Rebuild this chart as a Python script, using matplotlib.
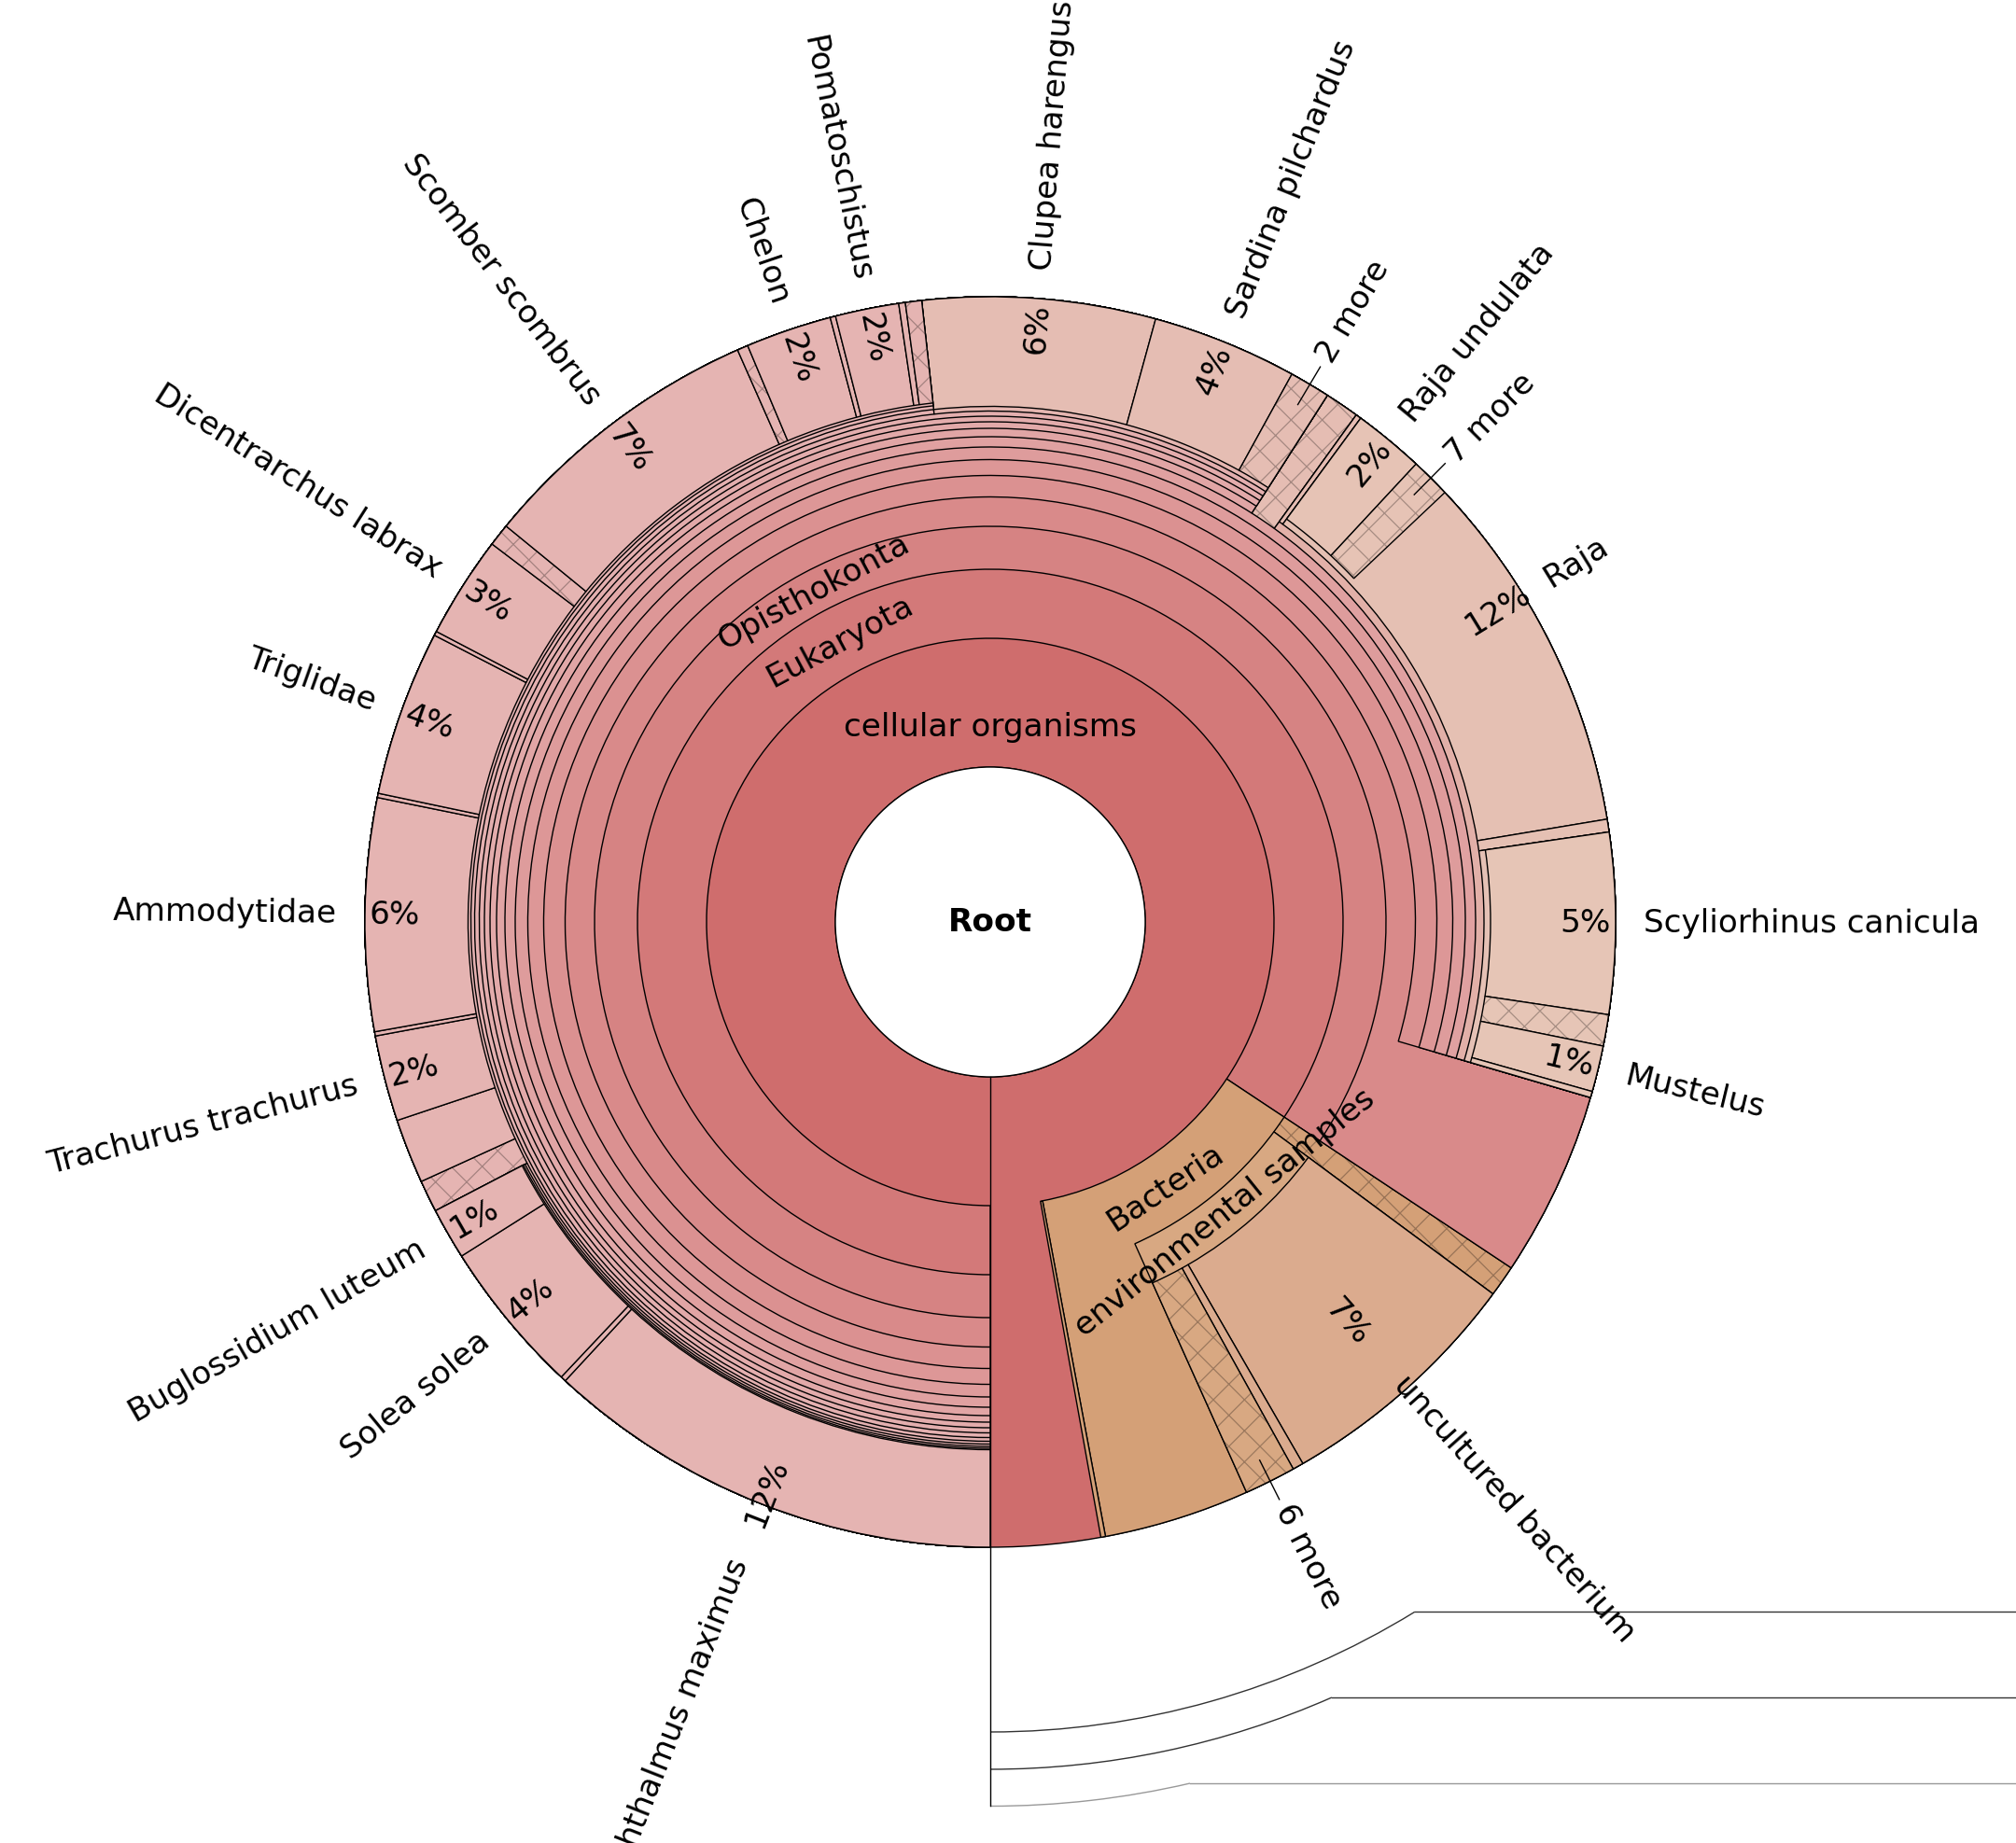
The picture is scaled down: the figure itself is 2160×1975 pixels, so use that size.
import numpy as np
import matplotlib
matplotlib.use("Agg")
import matplotlib.pyplot as plt
from matplotlib.patches import Wedge, Circle, Arc
from matplotlib.colors import to_rgb

plt.rcParams['font.family'] = ['DejaVu Sans']
plt.rcParams['hatch.linewidth'] = 0.9

# ---------------- data (magnitudes in % of all reads) ----------------
node_names = [
    "cellular organisms", "Eukaryota", "Bacteria", "minor 11",
    "Opisthokonta", "Metazoa", "Eumetazoa", "Bilateria", "Chordata", "Gnathostomata",
    "Actinopterygii", "other Gnathostomata", "Chondrichthyes",
    "Actinopteri", "Neopterygii", "Teleostei",
    "Percomorphaceae", "Clupeidae",
    "Clupea harengus", "Sardina pilchardus", "2 more",
    "Eupercaria", "Percomorpha",
    "Pleuronectiformes", "Pleuronectoidei", "Pleuronectoidea",
    "Scophthalmus maximus", "minor 1", "Solea solea", "Buglossidium luteum",
    "other Percomorpha A", "unlabeled taxon", "Trachurus trachurus", "minor 2",
    "Ammodytidae", "minor 3", "Triglidae", "minor 4", "Dicentrarchus labrax",
    "other Percomorpha B", "Scomber scombrus", "other Percomorpha C", "Chelon",
    "minor 5", "Pomatoschistus", "minor 6", "other Percomorpha D",
    "minor 7", "Raja", "minor 8", "Selachii",
    "Raja undulata", "7 more",
    "Scyliorhinus canicula", "other Selachii", "Mustelus", "minor 9",
    "other Bacteria", "environmental samples",
    "uncultured bacterium", "minor 10", "6 more",
]
node_parents = [
    "Root", "cellular organisms", "cellular organisms", "cellular organisms",
    "Eukaryota", "Opisthokonta", "Metazoa", "Eumetazoa", "Bilateria", "Chordata",
    "Gnathostomata", "Gnathostomata", "Gnathostomata",
    "Actinopterygii", "Actinopteri", "Neopterygii",
    "Teleostei", "Teleostei",
    "Clupeidae", "Clupeidae", "Clupeidae",
    "Percomorphaceae", "Eupercaria",
    "Percomorpha", "Pleuronectiformes", "Pleuronectoidei",
    "Pleuronectoidea", "Pleuronectoidea", "Pleuronectoidea", "Pleuronectoidea",
    "Percomorpha", "Percomorpha", "Percomorpha", "Percomorpha",
    "Percomorpha", "Percomorpha", "Percomorpha", "Percomorpha", "Percomorpha",
    "Percomorpha", "Percomorpha", "Percomorpha", "Percomorpha",
    "Percomorpha", "Percomorpha", "Percomorpha", "Percomorpha",
    "Chondrichthyes", "Chondrichthyes", "Chondrichthyes", "Chondrichthyes",
    "Raja", "Raja",
    "Selachii", "Selachii", "Selachii", "Selachii",
    "Bacteria", "Bacteria",
    "environmental samples", "environmental samples", "environmental samples",
]
node_values = [
    100.0, 84.33, 12.72, 0.12,
    84.33, 84.33, 79.53, 79.53, 79.53, 79.53,
    59.06, 0.89, 19.58,
    59.06, 59.06, 59.06,
    48.25, 10.81,
    6.01, 3.75, 1.05,
    48.25, 48.25,
    17.36, 17.36, 17.36,
    11.89, 0.14, 4.00, 1.33,
    0.83, 1.67, 2.22, 0.11,
    6.00, 0.11, 4.28, 0.11, 2.64,
    0.58, 7.47, 0.28, 2.22,
    0.14, 1.64, 0.17, 0.42,
    0.14, 12.28, 0.33, 6.83,
    1.83, 1.03,
    4.67, 0.81, 1.19, 0.16,
    0.81, 8.14,
    6.53, 0.28, 1.33,
]

hatched_nodes = ["other Gnathostomata", "2 more", "other Percomorpha A", "other Percomorpha B",
                 "other Percomorpha C", "other Percomorpha D", "7 more", "other Selachii",
                 "other Bacteria", "6 more"]
outer_labels = ["Scophthalmus maximus", "Solea solea", "Buglossidium luteum", "Trachurus trachurus",
                "Ammodytidae", "Triglidae", "Dicentrarchus labrax", "Scomber scombrus", "Chelon",
                "Pomatoschistus", "Clupea harengus", "Sardina pilchardus", "2 more", "Raja undulata",
                "7 more", "Raja", "Scyliorhinus canicula", "Mustelus", "uncultured bacterium", "6 more"]
percent_labels = ["Scophthalmus maximus", "Solea solea", "Buglossidium luteum", "Trachurus trachurus",
                  "Ammodytidae", "Triglidae", "Dicentrarchus labrax", "Scomber scombrus", "Chelon",
                  "Pomatoschistus", "Clupea harengus", "Sardina pilchardus", "Raja undulata", "Raja",
                  "Scyliorhinus canicula", "Mustelus", "uncultured bacterium"]
leader_labels = ["2 more", "7 more", "6 more"]
inner_labels = ["cellular organisms", "Eukaryota", "Opisthokonta", "Bacteria", "environmental samples"]

# ---------------- styles ----------------
pink_by_depth = {1: '#cf6d6d', 2: '#d37979', 3: '#d68383', 4: '#d98a8a', 5: '#db9191',
                 6: '#dd9797', 7: '#de9c9c', 8: '#e0a1a1', 9: '#e1a5a5', 10: '#e2a9a9',
                 11: '#e3acac', 12: '#e3aeae', 13: '#e4b0b0', 14: '#e4b1b1', 15: '#e4b2b2'}
LEAF_PINK = '#e5b4b2'
special_colors = {
    "Bacteria": '#d4a077', "minor 11": '#d4a077', "other Bacteria": '#d4a077',
    "environmental samples": '#d8a882',
    "uncultured bacterium": '#dbab8e', "minor 10": '#dbab8e', "6 more": '#d8a882',
    "Chondrichthyes": '#e2b0a8', "other Gnathostomata": '#e5bdb3', "minor 7": '#e5bcb2',
    "Raja": '#e5c0b3', "Raja undulata": '#e6c3b5', "7 more": '#e6c3b5', "minor 8": '#e5c0b3',
    "Selachii": '#e5c1b5', "Scyliorhinus canicula": '#e6c5b6', "other Selachii": '#e6c5b6',
    "Mustelus": '#e6c5b6', "minor 9": '#e6c5b6',
    "Clupeidae": '#e4b5b0', "Clupea harengus": '#e5bdb3', "Sardina pilchardus": '#e5bdb3',
    "2 more": '#e5bdb3',
}

W, H = 2160, 1975
CX, CY = 1061, H - 988
RING = [166, 304, 378, 424, 455.5, 478.5, 495.5, 509, 520, 529, 536, 542, 547.5, 552.5,
        556.5, 559.5, 562, 564, 565.5]
R_OUT = 670
START = 180.0
FS = 24.7
EDGE_LW = 1.0

# ---------------- layout ----------------
value = dict(zip(node_names, node_values))
children = {}
for n, p in zip(node_names, node_parents):
    children.setdefault(p, []).append(n)
span, depth = {}, {}


def place(parent, a0, d):
    a = a0
    for c in children.get(parent, []):
        w = value[c] * 3.6
        span[c] = (a, a + w)
        depth[c] = d
        place(c, a, d + 1)
        a += w


place("Root", START, 1)


def color_of(n):
    if n in special_colors:
        return special_colors[n]
    return pink_by_depth.get(depth[n], LEAF_PINK)


def darker(c, f=0.72):
    r, g, b = to_rgb(c)
    return (r * f, g * f, b * f)


def polar(r, th):
    t = np.deg2rad(th)
    return CX + r * np.sin(t), CY + r * np.cos(t)


fig = plt.figure(figsize=(W / 100, H / 100), dpi=100)
ax = fig.add_axes([0, 0, 1, 1])
ax.set_xlim(0, W)
ax.set_ylim(0, H)
ax.set_aspect('equal')
ax.axis('off')

for n in sorted(node_names, key=lambda k: depth[k]):
    a0, a1 = span[n]
    rin = RING[depth[n] - 1]
    t1, t2 = 90 - a1, 90 - a0
    col = color_of(n)
    if n in hatched_nodes:
        ax.add_patch(Wedge((CX, CY), R_OUT, t1, t2, width=R_OUT - rin, facecolor=col,
                           edgecolor=darker(col), hatch='x', linewidth=0))
        ax.add_patch(Wedge((CX, CY), R_OUT, t1, t2, width=R_OUT - rin, fill=False,
                           edgecolor='black', linewidth=EDGE_LW))
    else:
        ax.add_patch(Wedge((CX, CY), R_OUT, t1, t2, width=R_OUT - rin, facecolor=col,
                           edgecolor='black', linewidth=EDGE_LW))

# root hole
ax.add_patch(Circle((CX, CY), RING[0], facecolor='white', edgecolor='black', linewidth=EDGE_LW))
ax.text(CX, CY, "Root", fontsize=FS, fontweight='bold', ha='center', va='center')

# key lines below the chart
ax.plot([CX, CX], [CY - RING[0], CY - 947], color='black', lw=1.0)
key_radii = [868, 908, 947.5]
key_end = [148.4, 156.24, 166.95]
key_cols = ['#333333', '#333333', '#999999']
for r, e, c in zip(key_radii, key_end, key_cols):
    ax.add_patch(Arc((CX, CY), 2 * r, 2 * r, theta1=-90, theta2=90 - e, color=c, lw=1.0))
    x0, y0 = polar(r, e)
    ax.plot([x0, W + 5], [y0, y0], color=c, lw=1.0)

# outer name labels
name_r = {"Scophthalmus maximus": 735, "uncultured bacterium": 658}
pct_r = {"Scophthalmus maximus": 658, "uncultured bacterium": 575}
for n in outer_labels:
    a0, a1 = span[n]
    th = ((a0 + a1) / 2) % 360
    r = name_r.get(n, 700)
    if n in leader_labels:
        p1, p2 = polar(645, th), polar(692, th)
        ax.plot([p1[0], p2[0]], [p1[1], p2[1]], color='black', lw=1.0)
    if th < 180:
        rot, ha = 90 - th, 'left'
    else:
        rot, ha = 270 - th, 'right'
    x, y = polar(r, th)
    ax.text(x, y, n, fontsize=FS, rotation=rot, rotation_mode='anchor', ha=ha, va='center',
            clip_on=False)

for n in percent_labels:
    a0, a1 = span[n]
    th = ((a0 + a1) / 2) % 360
    r = pct_r.get(n, 638)
    rot = 90 - th if th < 180 else 270 - th
    x, y = polar(r, th)
    ax.text(x, y, f"{round(value[n])}%", fontsize=FS, rotation=rot, rotation_mode='anchor',
            ha='center', va='center')

# inner ring labels
inner_r = {"cellular organisms": 209}
for n in inner_labels:
    a0, a1 = span[n]
    th = ((a0 + a1) / 2) % 360
    d = depth[n]
    r = inner_r.get(n, (RING[d - 1] + RING[d]) / 2)
    rot = 180 - th if 90 < th < 270 else -th
    x, y = polar(r, th)
    ax.text(x, y, n, fontsize=FS, rotation=rot, rotation_mode='anchor', ha='center', va='center')

fig.savefig("out.png", dpi=100, facecolor='white')
